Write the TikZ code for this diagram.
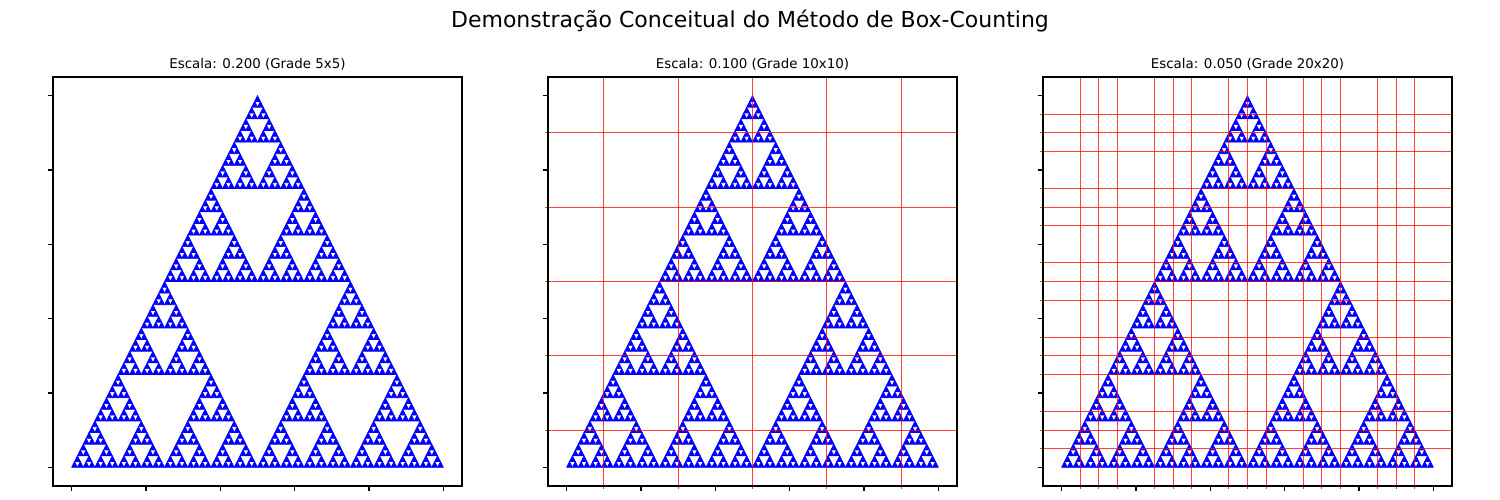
\documentclass[tikz,border=0pt]{standalone}
\usepackage{fontspec}
\setmainfont{DejaVu Sans}
\usepackage{tikz}
\definecolor{fractalblue}{RGB}{0, 0, 255}
\definecolor{gridred}{RGB}{255, 0, 0}
\definecolor{minorgray}{RGB}{110, 110, 110}

% Sierpinski triangle with corners (0,0), (1,0), (0.5,1)
\newcommand{\sierpinski}[1]{%
  \ifnum#1=0
    \filldraw[fractal] (0,0) -- (1,0) -- (0.5,1) -- cycle;
  \else
    \begin{scope}[scale=0.5]\sierpinski{\numexpr#1-1\relax}\end{scope}%
    \begin{scope}[shift={(0.5,0)}, scale=0.5]\sierpinski{\numexpr#1-1\relax}\end{scope}%
    \begin{scope}[shift={(0.25,0.5)}, scale=0.5]\sierpinski{\numexpr#1-1\relax}\end{scope}%
  \fi}

\begin{document}
\begin{tikzpicture}[
        x=1pt, y=1pt,
        fractal/.style={fill=fractalblue, draw=fractalblue, line width=0.7pt, line join=round},
        gridline/.style={draw=gridred, draw opacity=0.75, line width=1pt},
        spine/.style={draw=black, line width=1.1pt},
        majortick/.style={draw=black, line width=1.1pt},
        minortick/.style={draw=minorgray, line width=0.9pt},
        suptitle/.style={font=\fontsize{22}{26}\selectfont, anchor=base},
        paneltitle/.style={font=\fontsize{13.4}{16}\selectfont, anchor=base}
      ]
        \useasboundingbox (0,0) rectangle (1500,500);
        \node[suptitle] (suptitle) at (750,472.3) {Demonstração Conceitual do Método de Box-Counting};
        \foreach \p/\n/\scl in {0/5/0.200, 1/10/0.100, 2/20/0.050} {
          \begin{scope}[shift={(53+495*\p,14)}]
            \begin{scope}[shift={(18.6,18.6)}, x=371.8pt, y=371.8pt]
              \sierpinski{6}
              % grid lines on the box edges, minor ticks beside them
              \pgfmathtruncatemacro\last{\n-1}
              \foreach \k in {1,...,\last} {
                \pgfmathtruncatemacro\rest{mod(\k*5,\n)}
                \ifnum\rest>0
                  \draw[gridline] (\k/\n,-0.05) -- (\k/\n,1.05);
                  \draw[gridline] (-0.05,\k/\n) -- (1.05,\k/\n);
                  \draw[minortick] (\k/\n,-0.05) -- ++(0pt,-2.8pt);
                  \draw[minortick] (-0.05,\k/\n) -- ++(-2.8pt,0pt);
                \fi
              }
              \foreach \t in {0,...,5} {
                \draw[majortick] (\t/5,-0.05) -- ++(0pt,-4.9pt);
                \draw[majortick] (-0.05,\t/5) -- ++(-4.9pt,0pt);
              }
              \draw[spine] (-0.05,-0.05) rectangle (1.05,1.05);
              \node[paneltitle] (title\p) at (0.5,1.05) [yshift=8.3pt] {Escala: \scl\ (Grade \n x\n)};
            \end{scope}
          \end{scope}
        }
      \end{tikzpicture}
\end{document}
